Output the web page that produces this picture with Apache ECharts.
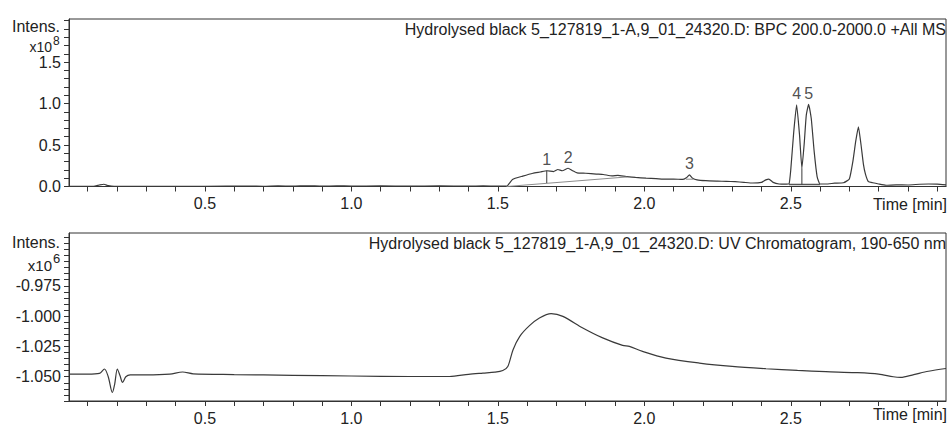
<!DOCTYPE html>
<html>
<head>
<meta charset="utf-8">
<title>Hydrolysed black 5 - BPC / UV</title>
<script src="https://cdn.jsdelivr.net/npm/echarts@6/dist/echarts.min.js"></script>
<style>
  html, body { margin: 0; padding: 0; background: #fff; }
  #chart { width: 950px; height: 426px; }
</style>
</head>
<body>
<div id="chart"></div>
<script>
// BPC trace, intensity x10^8
const msTime = [0.036, 0.06, 0.12, 0.14, 0.155, 0.17, 0.19, 0.3, 0.5, 0.65, 0.7, 0.75, 0.8, 0.85, 0.9, 0.95, 1.0,
  1.1, 1.2, 1.3, 1.4, 1.45, 1.5, 1.53, 1.55, 1.585, 1.62, 1.645, 1.667, 1.69, 1.705, 1.72, 1.74, 1.755, 1.77,
  1.80, 1.836, 1.86, 1.89, 1.91, 1.938, 1.97, 2.006, 2.04, 2.074, 2.10, 2.13, 2.145, 2.154, 2.165, 2.18, 2.21,
  2.25, 2.28, 2.31, 2.34, 2.37, 2.40, 2.415, 2.425, 2.44, 2.46, 2.485, 2.494, 2.50, 2.51, 2.52, 2.53, 2.538,
  2.546, 2.553, 2.561, 2.57, 2.58, 2.59, 2.60, 2.62, 2.65, 2.68, 2.70, 2.712, 2.722, 2.731, 2.74, 2.748, 2.755,
  2.765, 2.78, 2.80, 2.825, 2.86, 2.90, 2.94, 2.97, 3.0, 3.03];
const msIntens = [0.002, 0.001, 0.003, 0.018, 0.027, 0.01, 0.002, 0.002, 0.002, 0.006, 0.003, 0.008, 0.004, 0.009,
  0.004, 0.008, 0.005, 0.007, 0.004, 0.008, 0.004, 0.007, 0.005, 0.004, 0.085, 0.125, 0.16, 0.175, 0.19, 0.18,
  0.205, 0.19, 0.22, 0.19, 0.165, 0.16, 0.15, 0.145, 0.128, 0.135, 0.12, 0.11, 0.10, 0.095, 0.088, 0.09, 0.085,
  0.11, 0.14, 0.1, 0.08, 0.07, 0.065, 0.062, 0.058, 0.05, 0.042, 0.05, 0.08, 0.09, 0.05, 0.03, 0.028, 0.03,
  0.2, 0.65, 0.985, 0.62, 0.22, 0.52, 0.86, 0.99, 0.82, 0.42, 0.12, 0.03, 0.03, 0.04, 0.045, 0.09, 0.3, 0.55,
  0.72, 0.5, 0.27, 0.15, 0.06, 0.045, 0.03, 0.015, 0.02, 0.018, 0.027, 0.03, 0.028, 0.02];

// integration marks (baselines and drop lines), same units
const baseLine1 = [[1.53, 0.0], [1.94, 0.115]];
const dropLine1 = [[1.667, 0.19], [1.667, 0.042]];
const baseLine3 = [[2.142, 0.088], [2.168, 0.088]];
const baseLine45 = [[2.494, 0.025], [2.60, 0.025]];
const dropLine45 = [[2.538, 0.22], [2.538, 0.025]];

const peakNames = ['1', '2', '3', '4', '5'];
const peakTime = [1.667, 1.74, 2.154, 2.52, 2.561];
const peakIntens = [0.19, 0.22, 0.14, 0.985, 0.99];

// UV trace, intensity x10^6
const uvTime = [0.036, 0.10, 0.14, 0.157, 0.17, 0.184, 0.192, 0.201, 0.21, 0.219, 0.23, 0.245, 0.30, 0.38, 0.424,
  0.46, 0.6, 0.8, 1.0, 1.2, 1.335, 1.40, 1.449, 1.49, 1.517, 1.534, 1.552, 1.575, 1.608, 1.642, 1.682, 1.722,
  1.79, 1.858, 1.926, 1.949, 1.994, 2.074, 2.188, 2.3, 2.415, 2.523, 2.62, 2.72, 2.80, 2.85, 2.875, 2.92, 2.97, 3.03];
const uvIntens = [-1.0478, -1.0478, -1.0472, -1.0436, -1.050, -1.063, -1.056, -1.0436, -1.049, -1.0547, -1.050,
  -1.0484, -1.0484, -1.0478, -1.0461, -1.0476, -1.0482, -1.0488, -1.0494, -1.0498, -1.0498, -1.048, -1.047,
  -1.0462, -1.0448, -1.0415, -1.0277, -1.0167, -1.0079, -1.0016, -0.998, -1.0002, -1.0098, -1.018, -1.0242,
  -1.025, -1.0291, -1.0346, -1.0387, -1.0415, -1.0434, -1.0448, -1.0458, -1.0466, -1.0478, -1.0500, -1.0505,
  -1.0482, -1.0455, -1.0432];

const timeLabels = [0.5, 1.0, 1.5, 2.0, 2.5];
const msLabels = [0.0, 0.5, 1.0, 1.5];
const uvLabels = [-1.050, -1.025, -1.000, -0.975];

const FONT = '"Liberation Sans", Arial, sans-serif';
const INK = '#222';
const FRAME = '#333';
const TRACE = '#3a3a3a';
const GREY = '#8c8c8c';

const steps = (from, to, step) => {
  const out = [];
  const n = Math.round((to - from) / step);
  for (let i = 0; i <= n; i++) out.push(+(from + i * step).toFixed(4));
  return out;
};
const zip = (xs, ys) => xs.map((x, i) => [x, ys[i]]);

const timeAxis = (gridIndex) => ({
  type: 'value',
  gridIndex: gridIndex,
  min: 0.036,
  max: 3.03,
  axisLine: { show: true, onZero: false, lineStyle: { color: FRAME, width: 1 } },
  axisTick: { show: true, length: 5, customValues: steps(0.1, 3.0, 0.1), lineStyle: { color: FRAME } },
  axisLabel: {
    customValues: timeLabels, margin: 9, color: INK, fontSize: 16, fontFamily: FONT,
    formatter: (v) => v.toFixed(1)
  },
  splitLine: { show: false }
});

// small text pieces: "Intens.", the x10^n exponent, titles
const txt = (pos, text, size) => ({
  type: 'text', ...pos,
  style: { text: text, fill: INK, font: size + 'px ' + FONT }
});

const option = {
  animation: false,
  backgroundColor: '#fff',
  grid: [
    { left: 69, right: 4, top: 19, height: 167.5, show: true, borderColor: FRAME, borderWidth: 1 },
    { left: 69, right: 4, top: 233, height: 168.7, show: true, borderColor: FRAME, borderWidth: 1 }
  ],
  xAxis: [timeAxis(0), timeAxis(1)],
  yAxis: [
    {
      type: 'value', gridIndex: 0, min: 0, max: 2.02,
      axisLine: { show: true, lineStyle: { color: FRAME } },
      axisTick: { show: true, length: 5, customValues: steps(0, 2.0, 0.1), lineStyle: { color: FRAME } },
      axisLabel: {
        customValues: msLabels, margin: 8, color: INK, fontSize: 16, fontFamily: FONT,
        formatter: (v) => v.toFixed(1)
      },
      splitLine: { show: false }
    },
    {
      type: 'value', gridIndex: 1, min: -1.070, max: -0.9315,
      axisLine: { show: true, lineStyle: { color: FRAME } },
      axisTick: { show: true, length: 5, customValues: steps(-1.070, -0.935, 0.005), lineStyle: { color: FRAME } },
      axisLabel: {
        customValues: uvLabels, margin: 8, color: INK, fontSize: 16, fontFamily: FONT,
        formatter: (v) => v.toFixed(3)
      },
      splitLine: { show: false }
    }
  ],
  graphic: [
    txt({ left: 12, top: 18 }, 'Intens.', 16),
    txt({ right: 898, top: 39.5 }, 'x10', 14),
    txt({ left: 53, top: 34.5 }, '8', 12),
    txt({ left: 12, top: 234.5 }, 'Intens.', 16),
    txt({ right: 898, top: 257.5 }, 'x10', 15),
    txt({ left: 53, top: 251.5 }, '6', 13),
    txt({ right: 4, top: 21 }, 'Hydrolysed black 5_127819_1-A,9_01_24320.D: BPC 200.0-2000.0 +All MS', 16),
    txt({ right: 4, top: 235 }, 'Hydrolysed black 5_127819_1-A,9_01_24320.D: UV Chromatogram, 190-650 nm', 16),
    txt({ right: 3, top: 196 }, 'Time [min]', 16),
    txt({ right: 3, top: 406 }, 'Time [min]', 16)
  ],
  series: [
    {
      type: 'line', xAxisIndex: 0, yAxisIndex: 0, data: zip(msTime, msIntens),
      symbol: 'none', smooth: 0.15, lineStyle: { color: TRACE, width: 1.2 }, z: 3
    },
    { type: 'line', xAxisIndex: 0, yAxisIndex: 0, data: baseLine1, symbol: 'none', lineStyle: { color: GREY, width: 1 } },
    { type: 'line', xAxisIndex: 0, yAxisIndex: 0, data: dropLine1, symbol: 'none', lineStyle: { color: TRACE, width: 1 } },
    { type: 'line', xAxisIndex: 0, yAxisIndex: 0, data: baseLine3, symbol: 'none', lineStyle: { color: GREY, width: 1 } },
    { type: 'line', xAxisIndex: 0, yAxisIndex: 0, data: baseLine45, symbol: 'none', lineStyle: { color: '#555', width: 1.5 } },
    { type: 'line', xAxisIndex: 0, yAxisIndex: 0, data: dropLine45, symbol: 'none', lineStyle: { color: TRACE, width: 1 } },
    {
      type: 'scatter', xAxisIndex: 0, yAxisIndex: 0, symbolSize: 0,
      data: peakNames.map((n, i) => ({ name: n, value: [peakTime[i], peakIntens[i]] })),
      label: {
        show: true, position: 'top', distance: 3, formatter: '{b}',
        color: INK, fontSize: 16, fontFamily: FONT
      },
      z: 5
    },
    {
      type: 'line', xAxisIndex: 1, yAxisIndex: 1, data: zip(uvTime, uvIntens),
      symbol: 'none', smooth: 0.3, lineStyle: { color: TRACE, width: 1.2 }
    }
  ]
};

const chart = echarts.init(document.getElementById('chart'), null, { renderer: 'svg' });
chart.setOption(option);
</script>
</body>
</html>
